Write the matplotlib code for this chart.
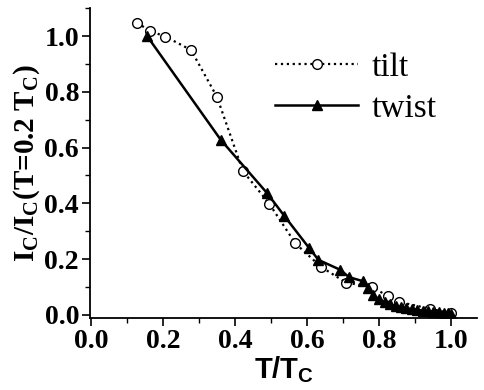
import matplotlib.pyplot as plt
from matplotlib.ticker import MultipleLocator

# values
tilt_x = [0.127, 0.162, 0.206, 0.277, 0.349, 0.421, 0.494, 0.567, 0.637,
          0.708, 0.781, 0.824, 0.855, 0.94, 1.0]
tilt_y = [1.048, 1.019, 0.998, 0.95, 0.782, 0.516, 0.399, 0.256, 0.173,
          0.115, 0.1, 0.066, 0.046, 0.022, 0.005]

twist_x = [0.155, 0.36, 0.488, 0.536, 0.606, 0.631, 0.692, 0.716, 0.756,
           0.768, 0.783, 0.800, 0.815, 0.830, 0.845, 0.860, 0.875, 0.89,
           0.905, 0.92, 0.935, 0.95, 0.965, 0.98, 0.99, 1.0]
twist_y = [1.0, 0.627, 0.437, 0.355, 0.238, 0.197, 0.161, 0.135, 0.12,
           0.096, 0.07, 0.055, 0.045, 0.038, 0.032, 0.028, 0.024, 0.02,
           0.018, 0.015, 0.013, 0.011, 0.01, 0.008, 0.006, 0.004]

serif = 'Liberation Serif'

fig = plt.figure(figsize=(4.85, 3.9), dpi=100)
ax = fig.add_axes([0.186, 0.185, 0.798, 0.794])

ax.plot(tilt_x, tilt_y, linestyle=':', color='black', linewidth=1.6,
        marker='o', markersize=7, markerfacecolor='white',
        markeredgecolor='black', markeredgewidth=1.0, label='tilt')
ax.plot(twist_x, twist_y, linestyle='-', color='black', linewidth=1.8,
        marker='^', markersize=7, markerfacecolor='black',
        markeredgecolor='black', label='twist')

ax.set_xlim(-0.003, 1.072)
ax.set_ylim(-0.011, 1.1)
ax.xaxis.set_major_locator(MultipleLocator(0.2))
ax.xaxis.set_minor_locator(MultipleLocator(0.1))
ax.yaxis.set_major_locator(MultipleLocator(0.2))
ax.yaxis.set_minor_locator(MultipleLocator(0.1))
ax.xaxis.set_major_formatter(plt.FormatStrFormatter('%.1f'))
ax.yaxis.set_major_formatter(plt.FormatStrFormatter('%.1f'))

for s in ['top', 'right']:
    ax.spines[s].set_visible(False)
for s in ['left', 'bottom']:
    ax.spines[s].set_linewidth(1.3)

ax.tick_params(which='major', direction='out', length=6, width=1.2, pad=2)
ax.tick_params(which='minor', direction='out', length=3.5, width=1.0)
for lab in ax.get_xticklabels() + ax.get_yticklabels():
    lab.set_fontfamily(serif)
    lab.set_fontweight('bold')
    lab.set_fontsize(20)

ax.set_xlabel('T/T$_\\mathregular{C}$', fontfamily='Liberation Sans',
              fontweight='bold', fontsize=21, labelpad=0)
ax.set_ylabel('I$_\\mathregular{C}$/I$_\\mathregular{C}$(T=0.2 T$_\\mathregular{C}$)',
              fontfamily=serif, fontweight='bold', fontsize=21, labelpad=2)

ax.legend(loc='upper left', bbox_to_anchor=(275 / 485, 1 - 52 / 390),
          bbox_transform=fig.transFigure, frameon=False,
          prop={'family': serif, 'size': 24}, handlelength=2.5,
          handletextpad=0.4, labelspacing=0.32, borderpad=0,
          borderaxespad=0)

fig.savefig('out.png', dpi=100)
